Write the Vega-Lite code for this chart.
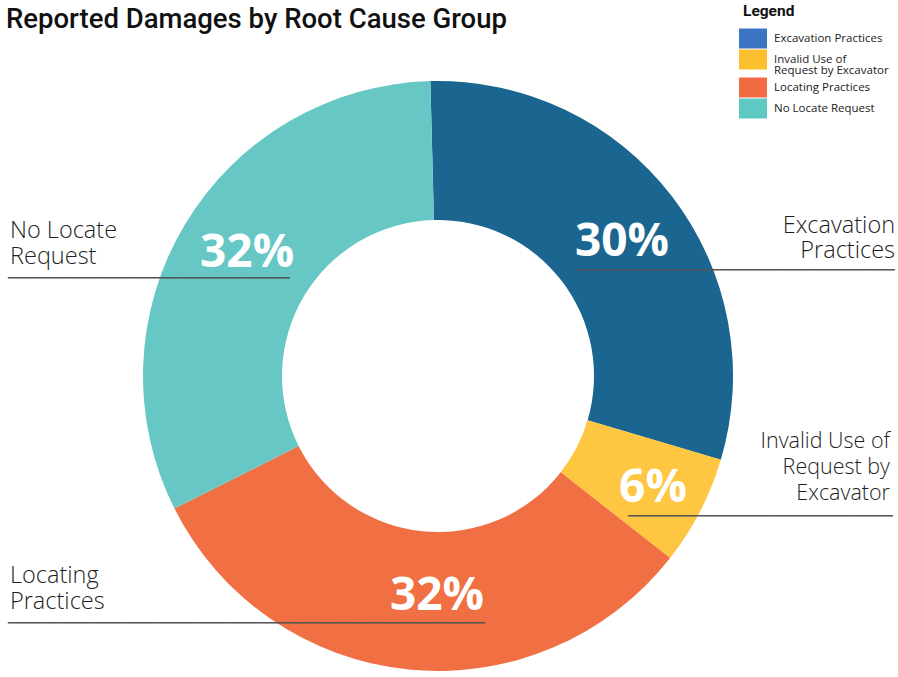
{
  "$schema": "https://vega.github.io/schema/vega-lite/v6.json",
  "width": 876,
  "height": 672,
  "autosize": {"type": "none"},
  "padding": {"left": 0, "top": 40, "right": 22, "bottom": 5},
  "background": "white",
  "title": {"text": "Reported Damages by Root Cause Group", "anchor": "start", "frame": "group", "font": "Roboto", "fontSize": 27.5, "fontWeight": 500, "color": "#111111", "dx": 6, "offset": -51, "baseline": "alphabetic"},
  "config": {"view": {"stroke": null}},
  "data": {"values": [
    {"cat": "Excavation Practices", "pct": 0.30},
    {"cat": "Invalid Use of Request by Excavator", "pct": 0.06},
    {"cat": "Locating Practices", "pct": 0.32},
    {"cat": "No Locate Request", "pct": 0.32}
  ]},
  "encoding": {
    "theta": {"field": "pct", "type": "quantitative", "stack": true, "scale": {"range": [-0.026, 6.2572]}},
    "order": {"field": "cat", "type": "nominal", "sort": "ascending"},
    "detail": {"field": "cat", "type": "nominal"}
  },
  "layer": [
    {"mark": {"type": "arc", "innerRadius": 156, "outerRadius": 295},
     "encoding": {"color": {"field": "cat", "type": "nominal", "scale": {"domain": ["Excavation Practices", "Invalid Use of Request by Excavator", "Locating Practices", "No Locate Request"], "range": ["#1b6690", "#fec641", "#f07043", "#66c7c5"]}, "legend": null}}},
    {"mark": {"type": "arc", "innerRadius": 0, "outerRadius": 0},
     "encoding": {"fill": {"field": "cat", "type": "nominal", "scale": {"range": ["#3c74c4", "#fcc02e", "#f26a3f", "#5ec8c5"]},
       "legend": {"title": "Legend", "orient": "none", "legendX": 743, "legendY": -36, "padding": 0, "symbolType": "M-1.4,-1H1.4V1H-1.4Z", "symbolSize": 400, "symbolStrokeWidth": 0, "symbolOpacity": 1, "labelFont": "Open Sans", "labelFontSize": 11.5, "labelColor": "#222222", "labelOffset": 11, "labelLimit": 300, "rowPadding": 1, "titleFont": "Roboto", "titleFontSize": 15.5, "titleFontWeight": "bold", "titleColor": "#111111", "titlePadding": 9,
         "labelExpr": "datum.label == 'Invalid Use of Request by Excavator' ? ['Invalid Use of', 'Request by Excavator'] : datum.label",
         "encode": {"labels": {"update": {"lineHeight": {"value": 11}}}}}}}},
    {"mark": {"type": "text", "radius": 230, "font": "Open Sans", "fontSize": 46, "fontWeight": "bold", "fill": "white", "align": "center", "baseline": "alphabetic", "dx": 1.5, "dy": 20},
     "encoding": {"text": {"condition": {"test": "datum.cat === 'Excavation Practices'", "field": "pct", "type": "quantitative", "format": ".0%"}, "value": ""}}},
    {"mark": {"type": "text", "radius": 230, "font": "Open Sans", "fontSize": 46, "fontWeight": "bold", "fill": "white", "align": "center", "baseline": "alphabetic", "dx": 10.6, "dy": 20.5},
     "encoding": {"text": {"condition": {"test": "datum.cat === 'Invalid Use of Request by Excavator'", "field": "pct", "type": "quantitative", "format": ".0%"}, "value": ""}}},
    {"mark": {"type": "text", "radius": 230, "font": "Open Sans", "fontSize": 46, "fontWeight": "bold", "fill": "white", "align": "center", "baseline": "alphabetic", "dx": 21.8, "dy": 5},
     "encoding": {"text": {"condition": {"test": "datum.cat === 'Locating Practices'", "field": "pct", "type": "quantitative", "format": ".0%"}, "value": ""}}},
    {"mark": {"type": "text", "radius": 230, "font": "Open Sans", "fontSize": 46, "fontWeight": "bold", "fill": "white", "align": "center", "baseline": "alphabetic", "dx": 6.4, "dy": 9},
     "encoding": {"text": {"condition": {"test": "datum.cat === 'No Locate Request'", "field": "pct", "type": "quantitative", "format": ".0%"}, "value": ""}}},
    {"mark": {"type": "text", "radius": 300, "font": "Open Sans", "fontSize": 23.5, "fontWeight": 300, "fill": "#1e1e1e", "align": "right", "baseline": "alphabetic", "lineHeight": 25, "dx": 219, "dy": 39.6},
     "encoding": {"text": {"condition": {"test": "datum.cat === 'Excavation Practices'", "value": ["Excavation", "Practices"]}, "value": ""}}},
    {"mark": {"type": "text", "radius": 300, "font": "Open Sans", "fontSize": 21.5, "fontWeight": 300, "fill": "#1e1e1e", "align": "right", "baseline": "alphabetic", "lineHeight": 26, "dx": 185.4, "dy": -65.6},
     "encoding": {"text": {"condition": {"test": "datum.cat === 'Invalid Use of Request by Excavator'", "value": ["Invalid Use of", "Request by", "Excavator"]}, "value": ""}}},
    {"mark": {"type": "text", "radius": 300, "font": "Open Sans", "fontSize": 23.5, "fontWeight": 300, "fill": "#1e1e1e", "align": "left", "baseline": "alphabetic", "lineHeight": 26, "dx": -398.2, "dy": -91.5},
     "encoding": {"text": {"condition": {"test": "datum.cat === 'Locating Practices'", "value": ["Locating", "Practices"]}, "value": ""}}},
    {"mark": {"type": "text", "radius": 300, "font": "Open Sans", "fontSize": 23.5, "fontWeight": 300, "fill": "#1e1e1e", "align": "left", "baseline": "alphabetic", "lineHeight": 26, "dx": -170.6, "dy": 16.1},
     "encoding": {"text": {"condition": {"test": "datum.cat === 'No Locate Request'", "value": ["No Locate", "Request"]}, "value": ""}}},
    {"mark": {"type": "text", "radius": 300, "font": "DejaVu Sans Mono", "fontSize": 18.21, "fill": "#555555", "align": "left", "baseline": "middle", "dx": -99, "dy": 77.5},
     "encoding": {"text": {"condition": {"test": "datum.cat === 'Excavation Practices'", "value": "─────────────────────────────"}, "value": ""}}},
    {"mark": {"type": "text", "radius": 300, "font": "DejaVu Sans Mono", "fontSize": 18.34, "fill": "#555555", "align": "left", "baseline": "middle", "dx": -76.6, "dy": 2.3},
     "encoding": {"text": {"condition": {"test": "datum.cat === 'Invalid Use of Request by Excavator'", "value": "────────────────────────"}, "value": ""}}},
    {"mark": {"type": "text", "radius": 300, "font": "DejaVu Sans Mono", "fontSize": 18.0, "fill": "#555555", "align": "left", "baseline": "middle", "dx": -400.2, "dy": -50.6},
     "encoding": {"text": {"condition": {"test": "datum.cat === 'Locating Practices'", "value": "────────────────────────────────────────────"}, "value": ""}}},
    {"mark": {"type": "text", "radius": 300, "font": "DejaVu Sans Mono", "fontSize": 18.01, "fill": "#555555", "align": "left", "baseline": "middle", "dx": -172.6, "dy": 57},
     "encoding": {"text": {"condition": {"test": "datum.cat === 'No Locate Request'", "value": "──────────────────────────"}, "value": ""}}}
  ]
}
